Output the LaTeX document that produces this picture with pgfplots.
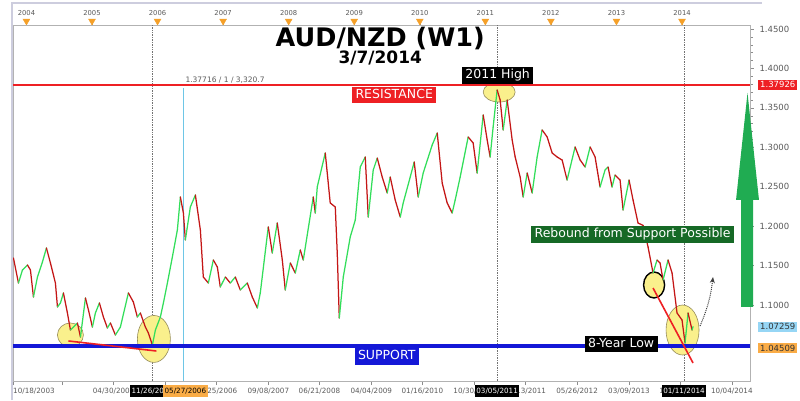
\documentclass[border=0pt]{standalone}
\usepackage{pgfplots}
\pgfplotsset{compat=1.18}
\usepackage{pgfplotstable}
\usepackage{fontspec}
\setmainfont{DejaVu Sans}
\usetikzlibrary{arrows.meta}

\definecolor{upgreen}{RGB}{50,222,90}
\definecolor{dnred}{RGB}{196,22,22}
\definecolor{resred}{RGB}{238,32,36}
\definecolor{supblue}{RGB}{20,24,215}
\definecolor{boxgreen}{RGB}{22,105,38}
\definecolor{bigarrow}{RGB}{32,172,82}
\definecolor{hilite}{RGB}{250,240,140}
\definecolor{hiedge}{RGB}{150,140,90}
\definecolor{tickgray}{RGB}{90,90,90}
\definecolor{framegray}{RGB}{205,205,222}
\definecolor{cyanline}{RGB}{110,198,230}
\definecolor{tri}{RGB}{245,160,40}
\definecolor{lblorange}{RGB}{250,172,70}
\definecolor{lblblue}{RGB}{150,214,245}

% weekly AUD/NZD path (t = year, v = price, c = 1 rising / 0 falling)
\pgfplotstableread{
t v c
2003.802 1.1596 0
2003.878 1.1279 1
2003.939 1.1444 1
2004.015 1.1508 0
2004.061 1.1444 0
2004.107 1.1102 1
2004.168 1.1355 1
2004.244 1.1546 1
2004.305 1.1723 0
2004.366 1.1533 0
2004.442 1.1279 0
2004.473 1.0975 1
2004.519 1.1026 1
2004.564 1.1153 0
2004.625 1.0899 0
2004.671 1.0683 1
2004.717 1.0721 1
2004.778 1.0772 0
2004.824 1.0594 1
2004.900 1.1089 0
2004.946 1.0937 0
2005.006 1.0721 1
2005.052 1.0899 1
2005.113 1.1026 0
2005.174 1.0848 0
2005.235 1.0709 1
2005.281 1.0772 0
2005.357 1.0620 1
2005.433 1.0721 1
2005.555 1.1153 0
2005.631 1.1038 0
2005.692 1.0848 1
2005.738 1.0899 0
2005.814 1.0721 0
2005.860 1.0645 0
2005.921 1.0493 1
2005.967 1.0683 1
2006.043 1.0848 1
2006.089 1.1026 1
2006.150 1.1279 1
2006.226 1.1609 1
2006.302 1.1951 1
2006.348 1.2370 0
2006.394 1.2167 0
2006.424 1.1825 1
2006.500 1.2243 1
2006.577 1.2395 0
2006.653 1.1951 0
2006.698 1.1355 0
2006.775 1.1279 1
2006.851 1.1571 0
2006.912 1.1482 0
2006.957 1.1229 1
2007.034 1.1355 0
2007.110 1.1279 1
2007.186 1.1355 0
2007.262 1.1191 1
2007.369 1.1279 0
2007.445 1.1102 0
2007.522 1.0963 1
2007.567 1.1153 1
2007.689 1.1990 0
2007.750 1.1660 1
2007.826 1.2040 0
2007.903 1.1571 0
2007.948 1.1191 1
2008.025 1.1533 0
2008.101 1.1406 1
2008.177 1.1698 0
2008.223 1.1571 1
2008.375 1.2370 0
2008.406 1.2167 1
2008.436 1.2497 1
2008.558 1.2928 0
2008.634 1.2294 0
2008.711 1.2243 0
2008.741 1.1660 0
2008.772 1.0835 1
2008.833 1.1355 1
2008.939 1.1863 1
2009.016 1.2078 1
2009.092 1.2750 1
2009.168 1.2877 0
2009.214 1.2116 1
2009.290 1.2712 1
2009.351 1.2864 0
2009.427 1.2623 0
2009.503 1.2421 1
2009.549 1.2623 0
2009.625 1.2332 0
2009.702 1.2116 1
2009.747 1.2294 1
2009.854 1.2623 1
2009.915 1.2814 0
2009.976 1.2370 1
2010.052 1.2674 1
2010.189 1.3029 1
2010.266 1.3181 0
2010.342 1.2547 0
2010.418 1.2294 0
2010.494 1.2167 1
2010.540 1.2332 1
2010.616 1.2623 1
2010.738 1.3131 0
2010.814 1.3055 0
2010.875 1.2674 1
2010.967 1.3410 0
2011.028 1.3093 0
2011.073 1.2877 1
2011.119 1.3258 1
2011.180 1.3727 0
2011.226 1.3600 0
2011.272 1.3220 1
2011.333 1.3600 0
2011.409 1.3093 0
2011.455 1.2877 0
2011.531 1.2623 0
2011.577 1.2370 1
2011.638 1.2674 0
2011.714 1.2421 1
2011.790 1.2877 1
2011.866 1.3220 0
2011.943 1.3131 0
2012.019 1.2928 0
2012.095 1.2877 0
2012.171 1.2839 0
2012.247 1.2585 1
2012.369 1.3004 0
2012.446 1.2839 0
2012.522 1.2750 1
2012.598 1.3004 0
2012.674 1.2877 0
2012.750 1.2497 1
2012.826 1.2712 1
2012.872 1.2750 0
2012.933 1.2497 1
2012.979 1.2649 0
2013.055 1.2585 0
2013.101 1.2205 1
2013.192 1.2585 0
2013.253 1.2332 0
2013.329 1.2040 0
2013.406 1.2010 0
2013.482 1.1736 0
2013.558 1.1406 1
2013.619 1.1571 0
2013.665 1.1533 0
2013.711 1.1317 1
2013.787 1.1571 0
2013.848 1.1406 0
2013.924 1.0899 0
2014.000 1.0810 0
2014.046 1.0518 1
2014.092 1.0899 0
2014.153 1.0683 1
2014.168 1.0726 1
}\price

\tikzset{
  tag/.style={text=white, font=\fontsize{12.5}{14}\selectfont, inner xsep=3.5pt, inner ysep=2.6pt, text height=9.2pt, text depth=2.3pt},
  datebox/.style={font=\fontsize{7.2}{8}\selectfont, anchor=north, yshift=-4pt, inner xsep=1.5pt, inner ysep=2.5pt, text height=5.3pt, text depth=1.4pt},
  pricebox/.style={font=\fontsize{8.5}{9}\selectfont, anchor=west, inner xsep=2pt, inner ysep=1.5pt, text height=6.2pt, text depth=0.8pt},
  hl/.style={draw=hiedge, fill=hilite, line width=0.6pt},
}

\begin{document}
\begin{tikzpicture}
\clip (0,0) rectangle (800pt,400pt);
\fill[white] (0,0) rectangle (800pt,400pt);

% top strip with the years
\begin{axis}[
  at={(13pt,19pt)}, anchor=south west, scale only axis,
  width=737pt, height=356pt,
  xmin=2003.795, xmax=2015.037, ymin=0, ymax=1,
  clip=false,
  axis x line*=top, axis y line=none,
  xtick={2004,2005,...,2014}, minor x tick num=11,
  tick align=outside, major tick length=4pt, minor tick length=2.5pt,
  tick style={draw=black!45, line width=0.5pt},
  x axis line style={draw=black!30, line width=0.8pt},
  xticklabel style={font=\fontsize{6.8}{7}\selectfont, text=tickgray, yshift=2pt},
  /pgf/number format/1000 sep={},
  /pgf/number format/assume math mode=true,
]
\addplot[only marks, mark=triangle*, mark size=4pt,
  mark options={rotate=180, fill=tri, draw=tri}]
  coordinates {(2004,1.0112)(2005,1.0112)(2006,1.0112)(2007,1.0112)(2008,1.0112)(2009,1.0112)(2010,1.0112)(2011,1.0112)(2012,1.0112)(2013,1.0112)(2014,1.0112)};
\end{axis}

\begin{axis}[
  at={(13pt,19pt)}, anchor=south west, scale only axis,
  width=737pt, height=356pt,
  xmin=2003.795, xmax=2015.037, ymin=1.00365, ymax=1.4551,
  clip=false,
  axis line style={draw=black!30, line width=0.8pt},
  xtick pos=bottom, ytick pos=right, yticklabel pos=right,
  tick align=outside, major tick length=4pt, minor tick length=2.5pt,
  tick style={draw=black!45, line width=0.5pt},
  xtick={2003.795,2004.54,2005.33,2006.11,2006.90,2007.69,2008.47,2009.26,2010.04,2010.83,2011.61,2012.40,2013.19,2013.97,2014.76},
  xticklabels={,,04/30/2005,02/11/2006,11/25/2006,09/08/2007,06/21/2008,04/04/2009,01/16/2010,10/30/2010,08/13/2011,05/26/2012,03/09/2013,12/21/2013,10/04/2014},
  minor x tick num=6,
  ytick={1.10,1.15,...,1.46},
  minor y tick num=4,
  xticklabel style={font=\fontsize{7.2}{8}\selectfont, text=tickgray},
  yticklabel style={font=\fontsize{8.5}{9}\selectfont, text=tickgray, xshift=2pt,
    /pgf/number format/.cd, fixed, fixed zerofill, precision=4},
  /pgf/number format/assume math mode=true,
  colormap={updn}{color(0)=(dnred) color(1)=(upgreen)},
  point meta min=0, point meta max=1,
]
% vertical markers
\draw[black!55, densely dotted, line width=0.7pt] (axis cs:2005.921,1.00365) -- (axis cs:2005.921,1.4551);
\draw[black!55, densely dotted, line width=0.7pt] (axis cs:2011.180,1.00365) -- (axis cs:2011.180,1.4551);
\draw[black!55, densely dotted, line width=0.7pt] (axis cs:2014.031,1.00365) -- (axis cs:2014.031,1.4551);
\draw[cyanline, line width=1.1pt] (axis cs:2006.394,1.3752) -- (axis cs:2006.394,1.00365);

% highlight ellipses
\draw[hl] (axis cs:2004.671,1.0620) ellipse [x radius=13pt, y radius=12pt];
\draw[hl] (axis cs:2005.944,1.0570) ellipse [x radius=16.5pt, y radius=23.5pt];
\draw[hl] (axis cs:2011.211,1.3701) ellipse [x radius=16pt, y radius=10pt];
\draw[hl] (axis cs:2014.008,1.0683) ellipse [x radius=16.5pt, y radius=25pt];
\draw[black, fill=hilite, line width=1.4pt] (axis cs:2013.574,1.1254) ellipse [x radius=10.5pt, y radius=13pt];

% price
\addplot[mesh, shader=flat corner, point meta=\thisrow{c}, line width=1.25pt, line cap=round]
  table[x=t, y=v] {\price};

% resistance / support
\draw[resred, line width=2.6pt] (axis cs:2003.795,1.37926) -- (axis cs:2015.037,1.37926);
\draw[supblue, line width=3.2pt] (axis cs:2003.795,1.0480) -- (axis cs:2015.037,1.0480);

% trend lines
\draw[resred, line width=1.6pt] (axis cs:2004.641,1.0544) -- (axis cs:2005.982,1.0417);
\draw[resred, line width=1.6pt] (axis cs:2013.558,1.1216) -- (axis cs:2014.168,1.0265);

% projected rebound
\draw[black!75, densely dotted, line width=1pt, -{Stealth[open, length=6pt, width=5pt]}]
  (axis cs:2014.275,1.0734) to[bend right=8] (axis cs:2014.473,1.1355);

% big arrow
\fill[bigarrow] (axis cs:2014.900,1.0975) -- (axis cs:2015.083,1.0975) -- (axis cs:2015.083,1.2332)
  -- (axis cs:2015.174,1.2332) -- (axis cs:2014.999,1.3689) -- (axis cs:2014.824,1.2332)
  -- (axis cs:2014.900,1.2332) -- cycle;

% labels
\node[font=\bfseries\fontsize{25.5}{27}\selectfont, anchor=base] at (axis cs:2009.397,1.4272) {AUD/NZD (W1)};
\node[font=\bfseries\fontsize{17}{18}\selectfont, anchor=base] at (axis cs:2009.397,1.4069) {3/7/2014};
\node[font=\fontsize{7.5}{8}\selectfont, text=tickgray, anchor=base west, inner sep=0pt] at (axis cs:2006.424,1.3828) {1.37716 / 1 / 3,320.7};
\node[tag, fill=resred] at (axis cs:2009.610,1.3663) {RESISTANCE};
\node[tag, fill=supblue] at (axis cs:2009.496,1.0347) {SUPPORT};
\node[tag, fill=black] at (axis cs:2011.188,1.3911) {2011 High};
\node[tag, fill=black] at (axis cs:2013.071,1.0506) {8-Year Low};
\node[tag, fill=boxgreen] at (axis cs:2013.246,1.1894) {Rebound from Support Possible};

% date flags on the time axis
\node[font=\fontsize{7.2}{8}\selectfont, text=tickgray, anchor=north west, yshift=-4pt, inner xsep=0pt] at (axis cs:2003.795,1.00365) {10/18/2003};
\node[datebox, fill=black, text=white] at (axis cs:2005.921,1.00365) {11/26/2005};
\node[datebox, fill=lblorange, text=black] at (axis cs:2006.424,1.00365) {05/27/2006};
\node[datebox, fill=black, text=white] at (axis cs:2011.180,1.00365) {03/05/2011};
\node[datebox, fill=black, text=white] at (axis cs:2014.031,1.00365) {01/11/2014};

% price flags on the price axis
\node[pricebox, fill=resred, text=white] at (axis cs:2015.159,1.37926) {1.37926};
\node[pricebox, fill=lblblue, text=black!80] at (axis cs:2015.159,1.07259) {1.07259};
\node[pricebox, fill=lblorange, text=black!80] at (axis cs:2015.159,1.04509) {1.04509};
\end{axis}

% outer frame
\draw[framegray, line width=1.5pt] (12pt,0pt) -- (12pt,397pt) -- (762pt,397pt);
\end{tikzpicture}
\end{document}
